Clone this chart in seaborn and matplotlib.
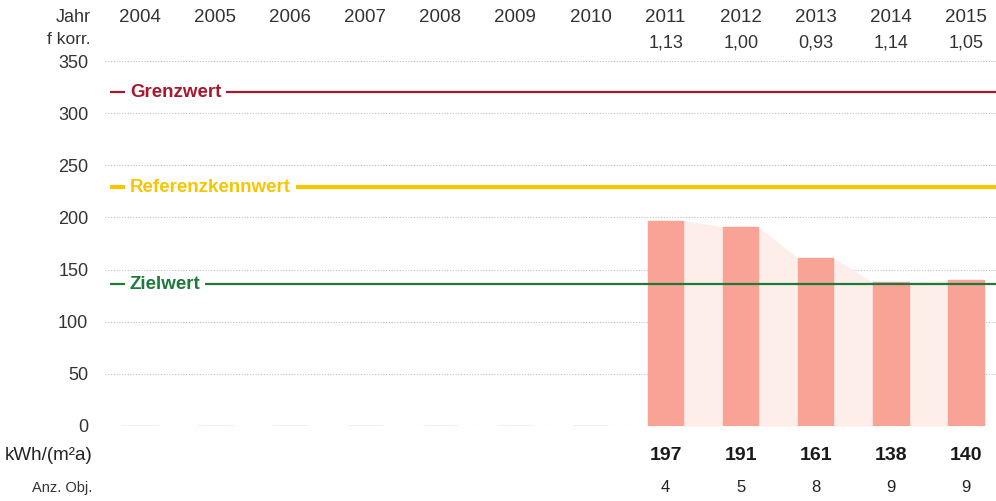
import matplotlib
matplotlib.use("Agg")
import matplotlib.pyplot as plt
import matplotlib.transforms as mtransforms
import pandas as pd
import seaborn as sns

# Daten aus der Vorlage
jahre = ["2004", "2005", "2006", "2007", "2008", "2009", "2010",
         "2011", "2012", "2013", "2014", "2015"]
kennwert = [0, 0, 0, 0, 0, 0, 0, 197, 191, 161, 138, 140]
f_korr = ["", "", "", "", "", "", "", "1,13", "1,00", "0,93", "1,14", "1,05"]
anz_obj = ["", "", "", "", "", "", "", "4", "5", "8", "9", "9"]

grenzwert = 320
referenzkennwert = 229
zielwert = 136

bar_color = "#F9A396"
fill_color = "#FDEEEA"
rot = "#A8182E"
gelb = "#F7C600"
gruen = "#1D7A3A"
text_grau = "#333333"

sns.set_theme(style="white")
plt.rcParams["font.family"] = ["Liberation Sans", "DejaVu Sans"]

df = pd.DataFrame({"Jahr": jahre, "Wert": kennwert})

fig = plt.figure(figsize=(9.96, 5.01), dpi=100)
ax = fig.add_axes([105 / 996, 75 / 501, 1 - 105 / 996, 365 / 501])

breite = 0.47
# heller Hintergrund zwischen den Balken
xs, ys = [], []
for i, v in enumerate(kennwert):
    if v > 0:
        xs += [i - breite / 2, i + breite / 2]
        ys += [v, v]
ax.fill_between(xs, ys, 0, color=fill_color, lw=0, zorder=1)

sns.barplot(data=df, x="Jahr", y="Wert", order=jahre, color=bar_color,
            width=breite, saturation=1, edgecolor=bar_color, linewidth=1.0,
            ax=ax, zorder=2)

ax.set_xlim(-0.466, 11.4)
ax.set_ylim(0, 350)
ax.set_yticks(range(0, 351, 50))
for y in range(0, 351, 50):
    ax.axhline(y, color="#BDBDBD", lw=0.8, ls=(0, (1, 1.5)), zorder=0)

for s in ax.spines.values():
    s.set_visible(False)
ax.set_xlabel("")
ax.set_ylabel("")
ax.set_xticks([])
ax.tick_params(axis="y", length=0, pad=12, labelsize=13, labelcolor=text_grau)

# Referenzlinien mit Beschriftung
for wert, farbe, text, lw in [(grenzwert, rot, "Grenzwert", 1.6),
                              (referenzkennwert, gelb, "Referenzkennwert", 3.0),
                              (zielwert, gruen, "Zielwert", 1.6)]:
    ax.plot([-0.4, 11.4], [wert, wert], color=farbe, lw=lw, zorder=3,
            solid_capstyle="butt")
    ax.text(-0.135, wert, text, color=farbe, fontsize=13.5, fontweight="bold",
            va="center", ha="left", zorder=4,
            bbox=dict(facecolor="white", edgecolor="none", pad=3.5))

# Texte ober- und unterhalb des Diagramms
trans = mtransforms.blended_transform_factory(ax.transData, fig.transFigure)
links = mtransforms.blended_transform_factory(fig.transFigure, fig.transFigure)
fy = lambda px: 1 - px / 501

ax.text(91 / 996, fy(17), "Jahr", transform=links, ha="right", va="center",
        fontsize=13, color=text_grau)
ax.text(91 / 996, fy(40), "f korr.", transform=links, ha="right", va="center",
        fontsize=12.5, color=text_grau)
ax.text(92 / 996, fy(455), "kWh/(m²a)", transform=links, ha="right", va="center",
        fontsize=13.5, color="#222222")
ax.text(92 / 996, fy(488), "Anz. Obj.", transform=links, ha="right", va="center",
        fontsize=10.5, color=text_grau)

for i, j in enumerate(jahre):
    ax.text(i, fy(17), j, transform=trans, ha="center", va="center",
            fontsize=13.5, color=text_grau)
    ax.text(i, fy(43), f_korr[i], transform=trans, ha="center", va="center",
            fontsize=13, color=text_grau)
    if kennwert[i] > 0:
        ax.text(i, fy(455), str(kennwert[i]), transform=trans, ha="center",
                va="center", fontsize=14, fontweight="bold", color="#1a1a1a")
    ax.text(i, fy(488), anz_obj[i], transform=trans, ha="center", va="center",
            fontsize=12, color="#222222")

fig.savefig("out.png", dpi=100)
